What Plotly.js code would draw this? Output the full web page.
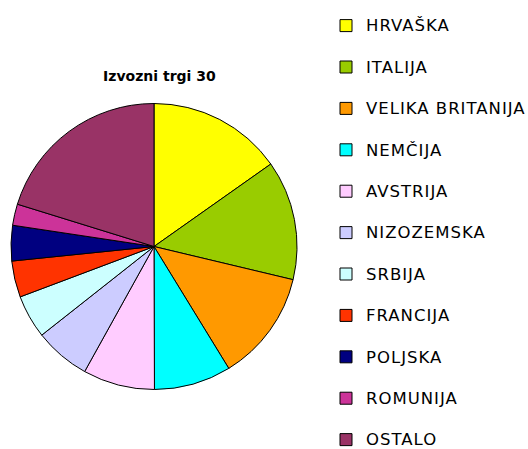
<!DOCTYPE html>
<html>
<head>
<meta charset="utf-8">
<script src="https://cdn.plot.ly/plotly-3.0.1.min.js"></script>
<style>html,body{margin:0;padding:0;background:#fff}#chart{width:528px;height:449px}</style>
</head>
<body>
<div id="chart"></div>
<script>
const chartTitle = "Izvozni trgi 30";
const labels = ["HRVAŠKA", "ITALIJA", "VELIKA BRITANIJA", "NEMČIJA", "AVSTRIJA", "NIZOZEMSKA", "SRBIJA", "FRANCIJA", "POLJSKA", "ROMUNIJA", "OSTALO"];
const values = [15.2, 13.5, 12.5, 8.7, 8.1, 6.3, 4.9, 4.1, 4.0, 2.4, 20.2];
const colors = ["#FFFF00", "#99CC00", "#FF9900", "#00FFFF", "#FFCCFF", "#CCCCFF", "#CCFFFF", "#FF3300", "#000080", "#CC3399", "#993366"];

// legend entries: visible text plus a blank second line to widen row spacing
const legendText = labels.map((l, i) =>
  '<span style="font-size:16.5px;letter-spacing:1px">' + l + '</span>' + (i < labels.length - 1 ? '<br> ' : ''));

const data = [{
  type: 'pie',
  labels: legendText,
  values: values,
  sort: false,
  direction: 'clockwise',
  rotation: 0,
  textinfo: 'none',
  hoverinfo: 'none',
  marker: {colors: colors, line: {color: '#000000', width: 1}},
  domain: {x: [11/528, 297/528], y: [1 - 389.5/449, 1 - 103.5/449]}
}];

const layout = {
  width: 528, height: 449,
  margin: {l: 0, r: 0, t: 0, b: 0, autoexpand: false},
  paper_bgcolor: '#ffffff',
  plot_bgcolor: '#ffffff',
  font: {family: 'DejaVu Sans, sans-serif', color: '#000000'},
  title: {
    text: '<b>' + chartTitle + '</b>',
    font: {family: 'DejaVu Sans, sans-serif', size: 14, color: '#000000'},
    x: 159.4/528, xanchor: 'center', xref: 'paper',
    y: 1 - 76.4/449, yanchor: 'middle', yref: 'paper'
  },
  showlegend: true,
  legend: {
    x: 326/528, xanchor: 'left',
    y: 1 - 9.5/449, yanchor: 'top',
    valign: 'top',
    font: {family: 'DejaVu Sans, sans-serif', size: 14.77, color: '#000000'},
    bgcolor: 'rgba(0,0,0,0)',
    borderwidth: 0
  }
};

Plotly.newPlot('chart', data, layout, {displayModeBar: false, staticPlot: true});
</script>
</body>
</html>
